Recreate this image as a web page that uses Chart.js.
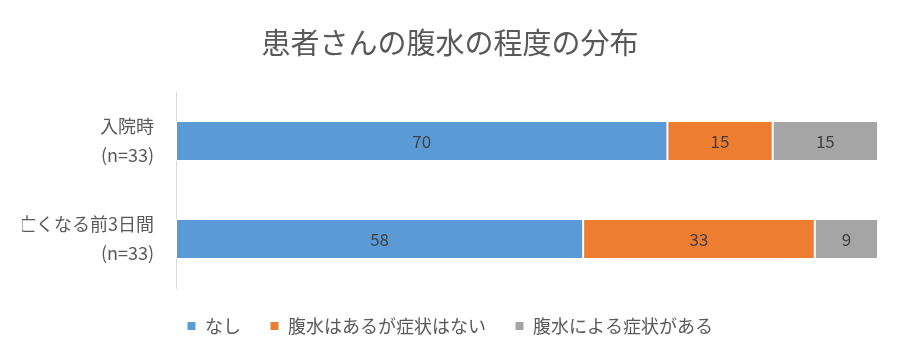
<!DOCTYPE html>
<html>
<head>
<meta charset="utf-8">
<script src="https://cdn.jsdelivr.net/npm/chart.js@4/dist/chart.umd.min.js"></script>
<style>
  html, body { margin: 0; padding: 0; background: #fff; }
  #wrap { width: 900px; height: 360px; }
</style>
</head>
<body>
<div id="wrap"><canvas id="ascitesChart"></canvas></div>
<script>
const categories = [["入院時", "(n=33)"], ["亡くなる前3日間", "(n=33)"]];
const seriesNames = ["なし", "腹水はあるが症状はない", "腹水による症状がある"];
const noneValues = [70, 58];
const noSymptomValues = [15, 33];
const symptomValues = [15, 9];

const blue = "#5b9bd5";
const orange = "#ed7d31";
const gray = "#a5a5a5";
const font = "'Noto Sans CJK JP', 'Noto Sans', sans-serif";

// draws the value in the middle of each segment
const segmentLabels = {
    id: "segmentLabels",
    afterDatasetsDraw(chart) {
        const ctx = chart.ctx;
        ctx.save();
        ctx.font = "17px " + font;
        ctx.fillStyle = "#404040";
        ctx.textAlign = "center";
        ctx.textBaseline = "middle";
        chart.data.datasets.forEach((ds, i) => {
            chart.getDatasetMeta(i).data.forEach((bar, j) => {
                const mid = (bar.x + bar.base) / 2;
                ctx.fillText(ds.data[j], mid, bar.y + 1);
            });
        });
        ctx.restore();
    }
};

new Chart(document.getElementById("ascitesChart"), {
    type: "bar",
    data: {
        labels: categories,
        datasets: [
            { label: seriesNames[0], data: noneValues, backgroundColor: blue },
            { label: seriesNames[1], data: noSymptomValues, backgroundColor: orange },
            { label: seriesNames[2], data: symptomValues, backgroundColor: gray }
        ]
    },
    options: {
        indexAxis: "y",
        responsive: true,
        maintainAspectRatio: false,
        animation: false,
        datasets: {
            bar: {
                borderColor: "#ffffff",
                borderWidth: 1,
                borderSkipped: false,
                categoryPercentage: 0.41,
                barPercentage: 1
            }
        },
        layout: { padding: { left: 22, right: 22, top: 0, bottom: 15 } },
        plugins: {
            title: {
                display: true,
                text: "患者さんの腹水の程度の分布",
                color: "#595959",
                font: { family: font, size: 29, weight: "normal", lineHeight: 1 },
                padding: { top: 28, bottom: 35 }
            },
            legend: {
                position: "bottom",
                labels: {
                    color: "#595959",
                    font: { family: font, size: 18 },
                    boxWidth: 9,
                    boxHeight: 9,
                    padding: 29
                }
            },
            tooltip: { enabled: false }
        },
        scales: {
            x: {
                stacked: true,
                min: 0,
                max: 100,
                display: false
            },
            y: {
                stacked: true,
                grid: { display: false },
                border: { display: true, color: "#d9d9d9", width: 1 },
                ticks: {
                    color: "#595959",
                    font: { family: font, size: 18, lineHeight: 1.6 },
                    padding: 14
                },
                afterFit(scale) { scale.width = 154; }
            }
        }
    },
    plugins: [segmentLabels]
});
</script>
</body>
</html>
